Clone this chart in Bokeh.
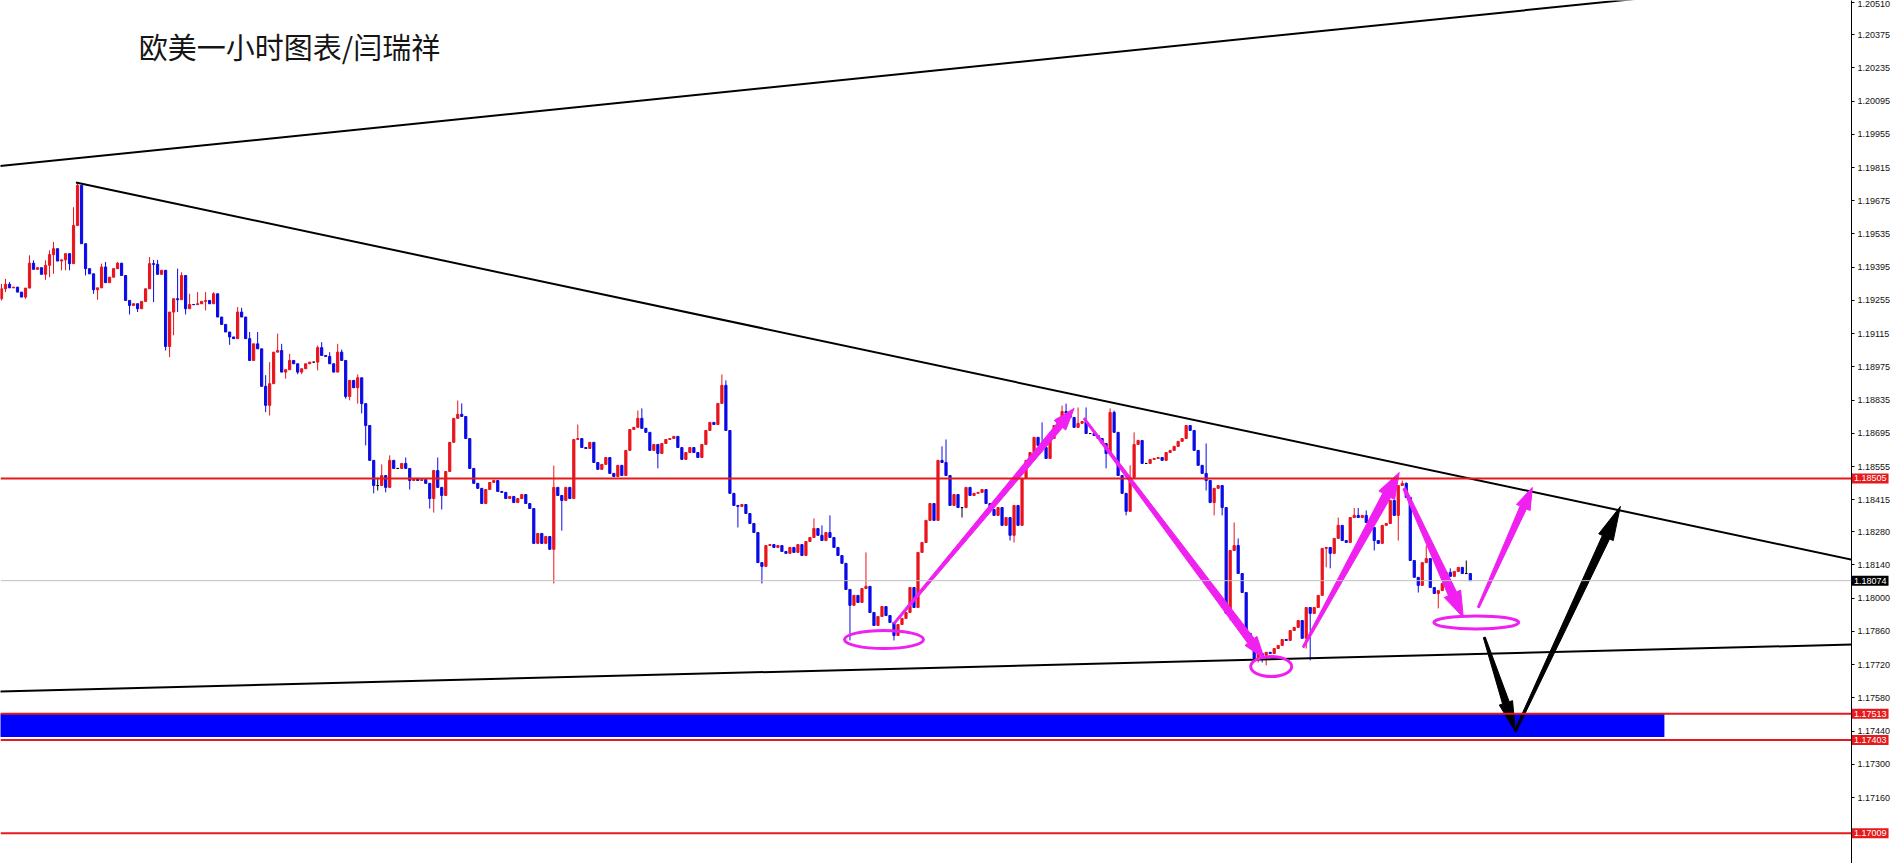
import math
from bokeh.plotting import figure
from bokeh.models import (Span, Label, FixedTicker, Range1d, ColumnDataSource,
                          CustomJSTickFormatter)
from bokeh.embed import file_html
from bokeh.resources import INLINE

# ---------------- data ----------------
TITLE = "欧美一小时图表/闫瑞祥"
FIRST_OPEN = 1.19262
CLOSES = [
    1.19304, 1.19323, 1.19308, 1.19311, 1.19290, 1.19269, 1.19307, 1.19412, 1.19386, 1.19393,
    1.19365, 1.19403, 1.19448, 1.19473, 1.19421, 1.19426, 1.19452, 1.19410, 1.19571, 1.19740,
    1.19494, 1.19389, 1.19367, 1.19300, 1.19308, 1.19396, 1.19330, 1.19353, 1.19389, 1.19412,
    1.19360, 1.19255, 1.19234, 1.19241, 1.19220, 1.19251, 1.19304, 1.19410, 1.19407, 1.19365,
    1.19382, 1.19061, 1.19206, 1.19262, 1.19258, 1.19360, 1.19220, 1.19238, 1.19237, 1.19241,
    1.19251, 1.19255, 1.19241, 1.19283, 1.19185, 1.19154, 1.19122, 1.19101, 1.19094, 1.19206,
    1.19185, 1.19094, 1.19002, 1.19072, 1.19051, 1.18893, 1.18813, 1.18904, 1.19037, 1.19044,
    1.18953, 1.18963, 1.19002, 1.18988, 1.18953, 1.18967, 1.18988, 1.18995, 1.18995, 1.19056,
    1.19023, 1.19019, 1.18988, 1.18953, 1.19037, 1.19002, 1.18850, 1.18918, 1.18887, 1.18929,
    1.18820, 1.18728, 1.18581, 1.18475, 1.18475, 1.18517, 1.18467, 1.18581, 1.18547, 1.18547,
    1.18568, 1.18547, 1.18496, 1.18505, 1.18496, 1.18500, 1.18484, 1.18420, 1.18538, 1.18467,
    1.18433, 1.18534, 1.18657, 1.18758, 1.18775, 1.18766, 1.18673, 1.18547, 1.18484, 1.18463,
    1.18399, 1.18458, 1.18488, 1.18496, 1.18450, 1.18446, 1.18420, 1.18429, 1.18403, 1.18420,
    1.18437, 1.18399, 1.18378, 1.18231, 1.18273, 1.18231, 1.18260, 1.18206, 1.18467, 1.18433,
    1.18412, 1.18467, 1.18420, 1.18669, 1.18673, 1.18635, 1.18631, 1.18657, 1.18572, 1.18543,
    1.18564, 1.18593, 1.18526, 1.18513, 1.18560, 1.18517, 1.18623, 1.18711, 1.18720, 1.18758,
    1.18716, 1.18699, 1.18623, 1.18648, 1.18610, 1.18652, 1.18669, 1.18673, 1.18682, 1.18635,
    1.18585, 1.18614, 1.18635, 1.18614, 1.18593, 1.18648, 1.18707, 1.18741, 1.18732, 1.18821,
    1.18897, 1.18707, 1.18442, 1.18391, 1.18387, 1.18395, 1.18357, 1.18315, 1.18277, 1.18150,
    1.18134, 1.18222, 1.18226, 1.18214, 1.18222, 1.18197, 1.18189, 1.18214, 1.18193, 1.18226,
    1.18180, 1.18239, 1.18256, 1.18294, 1.18265, 1.18243, 1.18277, 1.18256, 1.18214, 1.18180,
    1.18147, 1.18037, 1.17970, 1.18012, 1.17982, 1.18041, 1.18050, 1.17940, 1.17885, 1.17923,
    1.17965, 1.17927, 1.17898, 1.17843, 1.17889, 1.17915, 1.17940, 1.18045, 1.17961, 1.18193,
    1.18235, 1.18328, 1.18399, 1.18328, 1.18581, 1.18572, 1.18517, 1.18391, 1.18437, 1.18382,
    1.18382, 1.18467, 1.18433, 1.18442, 1.18446, 1.18458, 1.18399, 1.18374, 1.18349, 1.18382,
    1.18307, 1.18340, 1.18265, 1.18391, 1.18307, 1.18505, 1.18581, 1.18614, 1.18678, 1.18644,
    1.18635, 1.18589, 1.18673, 1.18728, 1.18758, 1.18787, 1.18779, 1.18762, 1.18720, 1.18737,
    1.18745, 1.18694, 1.18694, 1.18686, 1.18673, 1.18652, 1.18610, 1.18783, 1.18699, 1.18517,
    1.18442, 1.18366, 1.18509, 1.18648, 1.18665, 1.18568, 1.18568, 1.18585, 1.18589, 1.18593,
    1.18581, 1.18614, 1.18623, 1.18640, 1.18661, 1.18673, 1.18728, 1.18707, 1.18623, 1.18560,
    1.18526, 1.18496, 1.18403, 1.18463, 1.18475, 1.18382, 1.17936, 1.18201, 1.18222, 1.18104,
    1.18024, 1.17852, 1.17793, 1.17746, 1.17767, 1.17759, 1.17772, 1.17767, 1.17788, 1.17801,
    1.17826, 1.17822, 1.17864, 1.17877, 1.17906, 1.17831, 1.17961, 1.17936, 1.17961, 1.18012,
    1.18210, 1.18214, 1.18189, 1.18252, 1.18307, 1.18243, 1.18235, 1.18340, 1.18349, 1.18340,
    1.18349, 1.18319, 1.18298, 1.18243, 1.18231, 1.18307, 1.18315, 1.18412, 1.18349, 1.18475,
    1.18484, 1.18425, 1.18159, 1.18088, 1.18054, 1.18150, 1.18167, 1.18045, 1.18020, 1.18032,
    1.18062, 1.18109, 1.18092, 1.18113, 1.18130, 1.18104, 1.18104, 1.18074,
]
HIGH_WICKS = {
    0: 1.19325, 1: 1.19346, 2: 1.19332, 7: 1.19445, 8: 1.19424, 11: 1.19424, 12: 1.19466,
    13: 1.19501, 14: 1.19473, 18: 1.19648, 19: 1.19747, 20: 1.19740, 25: 1.19410, 26: 1.19417,
    29: 1.19417, 37: 1.19438, 38: 1.19426, 39: 1.19426, 44: 1.19389, 45: 1.19374, 47: 1.19283,
    49: 1.19290, 51: 1.19290, 53: 1.19290, 59: 1.19227, 60: 1.19224, 62: 1.19122, 64: 1.19122,
    66: 1.18940, 67: 1.18995, 69: 1.19115, 70: 1.19072, 72: 1.19030, 79: 1.19065, 80: 1.19079,
    82: 1.19037, 84: 1.19072, 85: 1.19048, 89: 1.18943, 94: 1.18508, 95: 1.18564, 97: 1.18602,
    101: 1.18593, 109: 1.18593, 114: 1.18833, 115: 1.18821, 138: 1.18559, 144: 1.18732,
    159: 1.18791, 160: 1.18800, 180: 1.18943, 181: 1.18918, 203: 1.18336, 205: 1.18307,
    207: 1.18349, 216: 1.18193, 235: 1.18640, 236: 1.18669, 260: 1.18741, 265: 1.18812,
    266: 1.18820, 269: 1.18804, 271: 1.18804, 277: 1.18800, 278: 1.18791, 282: 1.18560,
    283: 1.18699, 301: 1.18652, 308: 1.18319, 309: 1.18252, 334: 1.18340, 338: 1.18380,
    339: 1.18380, 341: 1.18370, 350: 1.18496, 351: 1.18488, 356: 1.18222, 362: 1.18126,
    366: 1.18159,
}
LOW_WICKS = {
    0: 1.19255, 1: 1.19290, 6: 1.19262, 11: 1.19342, 12: 1.19353, 13: 1.19367, 15: 1.19382,
    16: 1.19382, 17: 1.19382, 21: 1.19360, 23: 1.19283, 24: 1.19258, 32: 1.19196, 34: 1.19206,
    38: 1.19248, 41: 1.19044, 42: 1.19016, 43: 1.19108, 44: 1.19206, 46: 1.19196, 51: 1.19213,
    57: 1.19068, 66: 1.18784, 67: 1.18770, 71: 1.18925, 74: 1.18944, 75: 1.18944, 79: 1.18960,
    86: 1.18841, 87: 1.18834, 89: 1.18820, 90: 1.18779, 91: 1.18644, 93: 1.18442, 94: 1.18454,
    96: 1.18446, 102: 1.18458, 107: 1.18378, 108: 1.18361, 110: 1.18374, 138: 1.18062,
    140: 1.18285, 164: 1.18547, 184: 1.18298, 190: 1.18062, 212: 1.17822, 223: 1.17822,
    240: 1.18340, 252: 1.18243, 253: 1.18235, 276: 1.18547, 281: 1.18349, 301: 1.18454,
    303: 1.18349, 305: 1.18349, 307: 1.17906, 314: 1.17729, 315: 1.17729, 316: 1.17717,
    326: 1.17788, 327: 1.17738, 331: 1.18130, 332: 1.18126, 343: 1.18201, 349: 1.18243,
    354: 1.18024, 359: 1.17957,
}
AXIS_TICKS = [1.20510, 1.20375, 1.20235, 1.20095, 1.19955, 1.19815, 1.19675, 1.19535,
              1.19395, 1.19255, 1.19115, 1.18975, 1.18835, 1.18695, 1.18555, 1.18415,
              1.18280, 1.18140, 1.18000, 1.17860, 1.17720, 1.17580, 1.17440, 1.17300,
              1.17160]
RED_LEVELS = [1.18505, 1.17513, 1.17403, 1.17009]
LAST_PRICE = 1.18074
ZONE_BOTTOM, ZONE_TOP, ZONE_END = 1.17415, 1.17513, 415.5

# trend lines: (x0, y0, x1, y1) in bar index / price
TRENDLINES = [
    (-1.0, 1.19820, 430.0, 1.20563),
    (18.6, 1.19752, 470.0, 1.18135),
    (-1.0, 1.17607, 470.0, 1.17808),
]
MAG = "#f020f0"
# arrows: tail x, tail y, tip x, tip y, tail w, neck w, head len, head w, colour
ARROWS = [
    (223.0, 1.17893, 268.0, 1.18800, 2, 7, 22, 15, MAG),
    (270.5, 1.18758, 315.5, 1.17746, 2, 8, 22, 15, MAG),
    (325.25, 1.17793, 349.25, 1.18530, 2, 9, 26, 18, MAG),
    (350.5, 1.18463, 365.25, 1.17919, 3, 9, 26, 18, MAG),
    (369.0, 1.17961, 382.5, 1.18467, 2, 7, 22, 15, MAG),
    (370.5, 1.17835, 378.25, 1.17439, 2, 7, 30, 14, "black"),
    (378.25, 1.17439, 404.5, 1.18387, 2, 8, 34, 16, "black"),
]
# ellipses: centre x, centre y, width px, height px
ELLIPSES = [
    (220.5, 1.17826, 79, 18),
    (317.25, 1.17712, 41, 20),
    (368.5, 1.17898, 85, 13),
]

# ---------------- figure ----------------
FW, FH = 1851, 863
X0, X1 = -0.25, 462.25
Y0, Y1 = 1.16882, 1.20519
sx = FW / (X1 - X0)
sy = FH / (Y1 - Y0)

p = figure(frame_width=FW, frame_height=FH, output_backend="svg", toolbar_location=None,
           x_range=Range1d(X0, X1), y_range=Range1d(Y0, Y1),
           x_axis_location=None, y_axis_location="right", min_border=0)
p.outline_line_color = None
p.grid.visible = False
p.background_fill_color = "white"
p.border_fill_color = "white"

ax = p.yaxis[0]
ax.ticker = FixedTicker(ticks=AXIS_TICKS)
ax.formatter = CustomJSTickFormatter(code="return tick.toFixed(5);")
ax.major_label_text_font = "Liberation Sans"
ax.major_label_text_font_size = "9px"
ax.major_label_text_color = "#111111"
ax.major_label_standoff = 3
ax.major_tick_out = 3
ax.major_tick_in = 0
ax.minor_tick_out = 0
ax.minor_tick_in = 0
ax.axis_line_color = "black"
ax.major_tick_line_color = "black"

# blue zone
p.quad(left=[-1.0], right=[ZONE_END], bottom=[ZONE_BOTTOM], top=[ZONE_TOP],
       fill_color="#0000ff", line_color=None)

# horizontal levels
p.add_layout(Span(location=LAST_PRICE, dimension="width", line_color="#c0c0c0", line_width=1))
for lv in RED_LEVELS:
    p.add_layout(Span(location=lv, dimension="width", line_color="#e41a1c", line_width=2))

# candles
opens = [FIRST_OPEN] + CLOSES[:-1]
xs, hs, ls, tops, bots, cols = [], [], [], [], [], []
for i, (o, c) in enumerate(zip(opens, CLOSES)):
    xs.append(i)
    hs.append(max(o, c, HIGH_WICKS.get(i, 0.0)))
    ls.append(min(o, c, LOW_WICKS.get(i, 9.0)))
    tops.append(max(o, c))
    bots.append(min(o, c))
    cols.append("#e8141c" if c > o else ("#0a0ae6" if c < o else "#000000"))
src = ColumnDataSource(dict(x=xs, h=hs, l=ls, top=tops, bottom=bots, color=cols))
p.segment(x0="x", y0="l", x1="x", y1="h", line_color="color", line_width=1, source=src)
p.vbar(x="x", width=0.55, top="top", bottom="bottom", fill_color="color",
       line_color="color", line_width=1, source=src)

# trend lines
for (a, b, c, d) in TRENDLINES:
    p.line([a, c], [b, d], line_color="black", line_width=2)

# arrows
def arrow_poly(xa, ya, xb, yb, wt, wn, hl, hw):
    Xa, Ya, Xb, Yb = xa * sx, ya * sy, xb * sx, yb * sy
    dx, dy = Xb - Xa, Yb - Ya
    L = math.hypot(dx, dy)
    ux, uy = dx / L, dy / L
    nx, ny = -uy, ux
    Nx, Ny = Xb - ux * hl, Yb - uy * hl
    pts = [(Xa + nx * wt / 2, Ya + ny * wt / 2), (Nx + nx * wn / 2, Ny + ny * wn / 2),
           (Nx + nx * hw / 2, Ny + ny * hw / 2), (Xb, Yb),
           (Nx - nx * hw / 2, Ny - ny * hw / 2), (Nx - nx * wn / 2, Ny - ny * wn / 2),
           (Xa - nx * wt / 2, Ya - ny * wt / 2)]
    return [q[0] / sx for q in pts], [q[1] / sy for q in pts]

for (xa, ya, xb, yb, wt, wn, hl, hw, col) in ARROWS:
    px, py = arrow_poly(xa, ya, xb, yb, wt, wn, hl, hw)
    p.patch(px, py, fill_color=col, line_color=col, line_width=1)

# ellipses
for (cx, cy, w, h) in ELLIPSES:
    p.ellipse(x=[cx], y=[cy], width=[w], height=[h], width_units="screen",
              height_units="screen", fill_color=None, line_color=MAG, line_width=3)

# title text
p.add_layout(Label(x=34.3, y=1.20414, text=TITLE, text_font="Noto Sans CJK SC",
                   text_font_size="29px", text_color="#151515", text_baseline="top",
                   text_align="left"))

# price tags on the price axis (side panel, so that they are not clipped)
for lv in RED_LEVELS + [LAST_PRICE]:
    p.add_layout(Label(x=X1 + 0.5 / sx, y=lv, text=f"{lv:.5f}", text_font="Liberation Sans",
                       text_font_size="9px", text_color="white", text_baseline="middle",
                       text_align="left", padding=2,
                       background_fill_color="#000000" if lv == LAST_PRICE else "#e41a1c"),
                 "right")

open("out.html", "w").write(file_html(p, INLINE))
